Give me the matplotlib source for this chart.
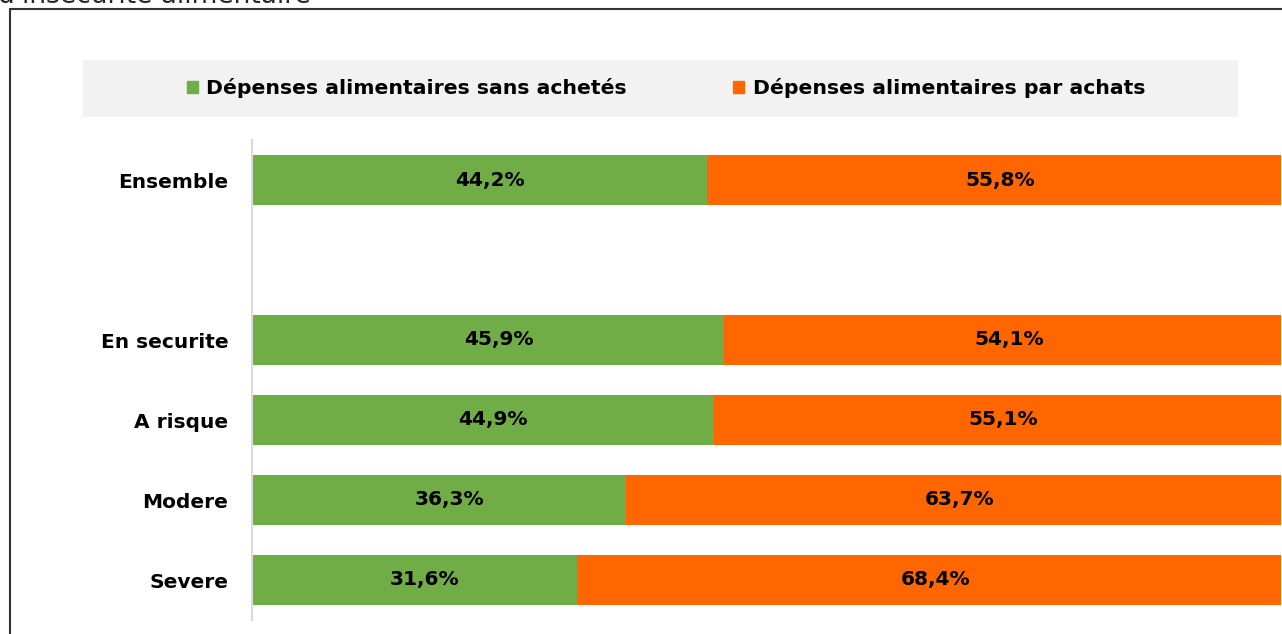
import matplotlib.pyplot as plt
from matplotlib.patches import Rectangle, Patch

categories = ["Ensemble", "", "En securite", "A risque", "Modere", "Severe"]
sans_achetes = [44.2, None, 45.9, 44.9, 36.3, 31.6]
par_achats = [55.8, None, 54.1, 55.1, 63.7, 68.4]
series_names = ["Dépenses alimentaires sans achetés", "Dépenses alimentaires par achats"]

green = "#70AD47"
orange = "#FF6600"

W, H = 1282, 634
fig = plt.figure(figsize=(W / 100, H / 100), dpi=100)
plt.rcParams['font.family'] = ['DejaVu Sans']

# frame of the chart area (clipped on right/bottom)
fig.patches.append(Rectangle((10 / W, -0.1), 1.2, 1 - 9 / H + 0.1, transform=fig.transFigure,
                             fill=False, edgecolor="#333333", lw=1.5, zorder=0))
# cut-off title at the very top
fig.text(-2 / W, 1 - 3 / H, "d'insécurité alimentaire", fontsize=19, color="#262626",
         ha="left", va="baseline")

ax = fig.add_axes([252 / W, 1 - 620 / H, 1029 / W, 480 / H])
pos = list(range(len(categories)))
for i, (a, b) in enumerate(zip(sans_achetes, par_achats)):
    if a is None:
        continue
    ax.barh(i, a, height=0.625, color=green)
    ax.barh(i, b, left=a, height=0.625, color=orange)
    ax.text(a / 2 + 1, i, f"{a:.1f}%".replace(".", ","), ha="center", va="center",
            fontsize=14.5, fontweight="bold", color="black")
    ax.text(a + b / 2 + 0.6, i, f"{b:.1f}%".replace(".", ","), ha="center", va="center",
            fontsize=14.5, fontweight="bold", color="black")

ax.set_xlim(0, 100)
ax.set_ylim(5.5, -0.5)
ax.set_yticks([p for p, c in zip(pos, categories) if c])
ax.set_yticklabels([c for c in categories if c], fontsize=14.5, fontweight="bold")
ax.tick_params(axis="y", length=0, pad=17)
ax.set_xticks([])
for s in ["top", "right", "bottom"]:
    ax.spines[s].set_visible(False)
ax.spines["left"].set_color("#D9D9D9")
ax.spines["left"].set_linewidth(1.5)

# legend band
fig.patches.append(Rectangle((83 / W, 1 - 117 / H), (1238 - 83) / W, 57 / H,
                             transform=fig.transFigure, facecolor="#F2F2F2",
                             edgecolor="none", zorder=1))
handles = [Patch(color=green), Patch(color=orange)]
leg = fig.legend(handles, series_names, loc="center", bbox_to_anchor=(666 / W, 1 - 88 / H),
                 ncol=2, frameon=False, prop={"weight": "bold", "size": 14.7},
                 handlelength=0.55, handleheight=0.55, handletextpad=0.4, columnspacing=5.2)

fig.savefig("out.png", dpi=100)
